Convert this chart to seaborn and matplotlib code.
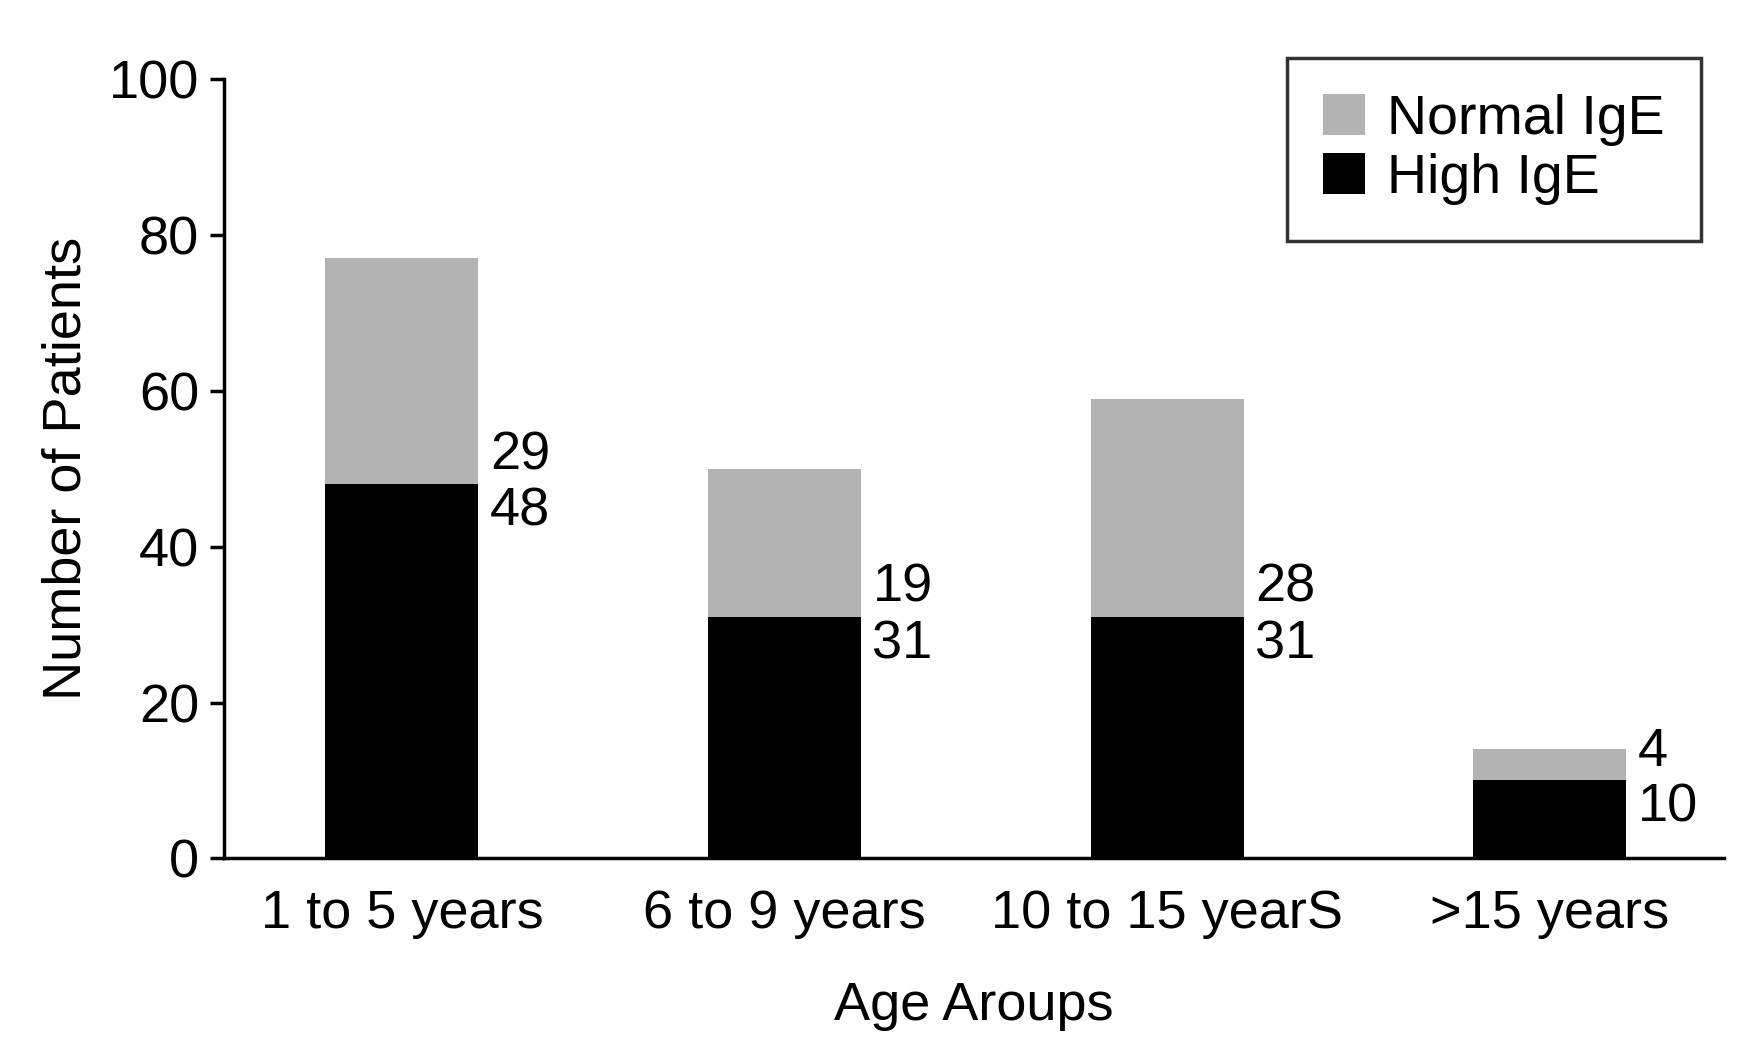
import pandas as pd
import numpy as np
import seaborn as sns
import matplotlib.pyplot as plt

# data
age_groups = ["1 to 5 years", "6 to 9 years", "10 to 15 yearS", ">15 years"]
high_ige = [48, 31, 31, 10]
normal_ige = [29, 19, 28, 4]

df = pd.DataFrame({"group": age_groups, "high": high_ige, "normal": normal_ige})
df["total"] = df["high"] + df["normal"]

sns.set_style("white")
plt.rcParams['font.family'] = ['Liberation Sans', 'DejaVu Sans']
plt.rcParams['text.color'] = 'black'
plt.rcParams['axes.labelcolor'] = 'black'
plt.rcParams['xtick.color'] = 'black'
plt.rcParams['ytick.color'] = 'black'

fig = plt.figure(figsize=(17.5, 10.52), dpi=100)
ax = fig.add_axes([0.128, 0.184, 0.857, 0.741])

# stacked bars: gray total behind, black high on top
sns.barplot(data=df, x="group", y="total", color="#b3b3b3", width=0.4,
            saturation=1, linewidth=0, ax=ax, label="Normal IgE")
sns.barplot(data=df, x="group", y="high", color="black", width=0.4,
            saturation=1, linewidth=0, ax=ax, label="High IgE")
if ax.get_legend() is not None:
  ax.get_legend().remove()

# value labels at the boundary, right of each bar
for i in range(len(df)):
  ax.text(i + 0.23, df["high"][i] + 0.5, str(df["normal"][i]), ha="left", va="bottom", fontsize=39)
  ax.text(i + 0.23, df["high"][i] - 0.3, str(df["high"][i]), ha="left", va="top", fontsize=39)

ax.set_ylim(0, 100)
ax.set_xlim(-0.465, 3.455)
ax.set_yticks([0, 20, 40, 60, 80, 100])
ax.tick_params(axis="y", labelsize=39, length=10, width=2.5, pad=8, left=True)
ax.tick_params(axis="x", labelsize=39, length=0, pad=22)
ax.set_ylabel("Number of Patients", fontsize=39, labelpad=12)
ax.set_xlabel("Age Aroups", fontsize=39, labelpad=30)

for s in ["top", "right"]:
  ax.spines[s].set_visible(False)
for s in ["left", "bottom"]:
  ax.spines[s].set_linewidth(2.5)
  ax.spines[s].set_color("black")

handles, labels = ax.get_legend_handles_labels()
leg = fig.legend(handles, labels, loc="upper right", bbox_to_anchor=(0.972, 0.945),
                 fontsize=40, frameon=True, fancybox=False, edgecolor="black",
                 handlelength=0.75, handleheight=0.75, handletextpad=0.4,
                 borderpad=0.65, labelspacing=0.12, borderaxespad=0)
leg.get_frame().set_linewidth(2.5)

fig.savefig("out.png", dpi=100)
